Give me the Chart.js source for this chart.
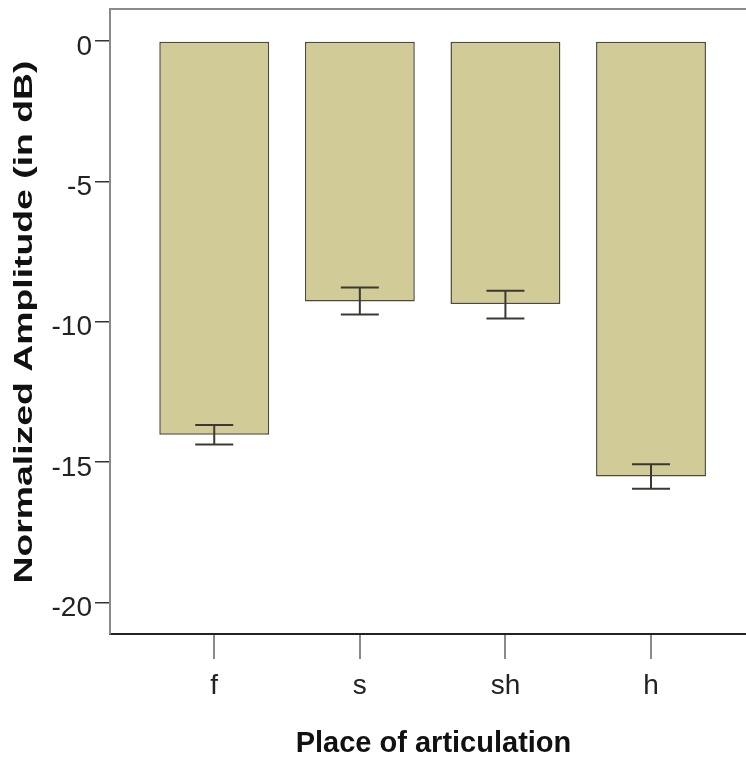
<!DOCTYPE html>
<html>
<head>
<meta charset="utf-8">
<script src="https://cdn.jsdelivr.net/npm/chart.js@4/dist/chart.umd.min.js"></script>
<style>
  html, body { margin: 0; padding: 0; background: #fff; overflow: hidden; }
  #wrap { width: 770px; height: 761px; }
</style>
</head>
<body>
<div id="wrap"><canvas id="barchart" width="770" height="761"></canvas></div>
<script>
// mean normalized amplitude per place of articulation, with error bar ends
const places = ['f', 's', 'sh', 'h'];
const amplitude = [-14.03, -9.28, -9.37, -15.52];
const errTop = [-13.68, -8.78, -8.90, -15.08];
const errBottom = [-14.38, -9.75, -9.89, -15.95];
const yTicks = [-20, -15, -10, -5, 0];

const fontFamily = '"Liberation Sans", Arial, sans-serif';

// whiskers with caps on each bar
const errorBars = {
    id: 'errorBars',
    afterDatasetsDraw(chart) {
        const ctx = chart.ctx;
        const y = chart.scales.y;
        const bars = chart.getDatasetMeta(0).data;
        ctx.save();
        ctx.strokeStyle = '#3a3a32';
        ctx.lineWidth = 2;
        bars.forEach((bar, i) => {
            const top = y.getPixelForValue(errTop[i]);
            const bottom = y.getPixelForValue(errBottom[i]);
            ctx.beginPath();
            ctx.moveTo(bar.x, top);
            ctx.lineTo(bar.x, bottom);
            ctx.moveTo(bar.x - 19, top);
            ctx.lineTo(bar.x + 19, top);
            ctx.moveTo(bar.x - 19, bottom);
            ctx.lineTo(bar.x + 19, bottom);
            ctx.stroke();
        });
        ctx.restore();
    }
};

// top and right edges of the plot frame, plus the stretched vertical title
const frame = {
    id: 'frame',
    afterDraw(chart) {
        const ctx = chart.ctx;
        const a = chart.chartArea;
        ctx.save();
        ctx.strokeStyle = '#8a8a8a';
        ctx.lineWidth = 2;
        ctx.beginPath();
        ctx.moveTo(a.left, a.top);
        ctx.lineTo(a.right, a.top);
        ctx.lineTo(a.right, a.bottom);
        ctx.stroke();

        const title = 'Normalized Amplitude (in dB)';
        ctx.font = 'bold 26px ' + fontFamily;
        ctx.fillStyle = '#111';
        ctx.textAlign = 'center';
        ctx.textBaseline = 'middle';
        const w = ctx.measureText(title).width;
        ctx.translate(24, 322);
        ctx.rotate(-Math.PI / 2);
        ctx.scale(523 / w, 1);
        ctx.fillText(title, 0, 1);
        ctx.restore();
    }
};

const ctx = document.getElementById('barchart');

new Chart(ctx, {
    type: 'bar',
    data: {
        datasets: [{
            label: 'Normalized Amplitude',
            data: amplitude.map((v, i) => ({ x: i, y: v })),
            backgroundColor: 'rgb(208,203,151)',
            borderColor: '#4c4a3c',
            borderWidth: 1.5,
            borderSkipped: false,
            barPercentage: 0.755,
            categoryPercentage: 1
        }]
    },
    options: {
        responsive: false,
        animation: false,
        layout: { padding: { top: 9, right: 13, left: 0, bottom: 0 } },
        plugins: {
            legend: { display: false },
            tooltip: { enabled: false }
        },
        scales: {
            x: {
                type: 'linear',
                offset: false,
                min: -0.716,
                max: 3.728,
                afterBuildTicks: (scale) => { scale.ticks = places.map((p, i) => ({ value: i })); },
                afterFit: (scale) => {
                    scale.height = 127;
                    scale.paddingLeft = 0;
                    scale.paddingRight = 0;
                },
                grid: { offset: false, drawOnChartArea: false, drawTicks: true, tickLength: 25, color: '#8a8a8a', lineWidth: 2 },
                border: { color: '#222', width: 2 },
                ticks: {
                    padding: 10,
                    color: '#222',
                    font: { family: fontFamily, size: 28 },
                    callback: (value) => places[value] ?? ''
                },
                title: {
                    display: true,
                    text: 'Place of articulation',
                    color: '#111',
                    font: { family: fontFamily, size: 29, weight: 'bold' },
                    padding: { top: 0, bottom: 0 }
                }
            },
            y: {
                min: -21.13,
                max: 1.14,
                afterBuildTicks: (scale) => { scale.ticks = yTicks.map((v) => ({ value: v })); },
                afterFit: (scale) => {
                    scale.width = 110;
                    scale.paddingTop = 0;
                    scale.paddingBottom = 0;
                },
                grid: { drawOnChartArea: false, drawTicks: true, tickLength: 15, color: '#333', lineWidth: 1.5 },
                border: { color: '#8a8a8a', width: 2 },
                ticks: {
                    padding: 3,
                    labelOffset: 6,
                    color: '#222',
                    font: { family: fontFamily, size: 28 }
                }
            }
        }
    },
    plugins: [errorBars, frame]
});
</script>
</body>
</html>
